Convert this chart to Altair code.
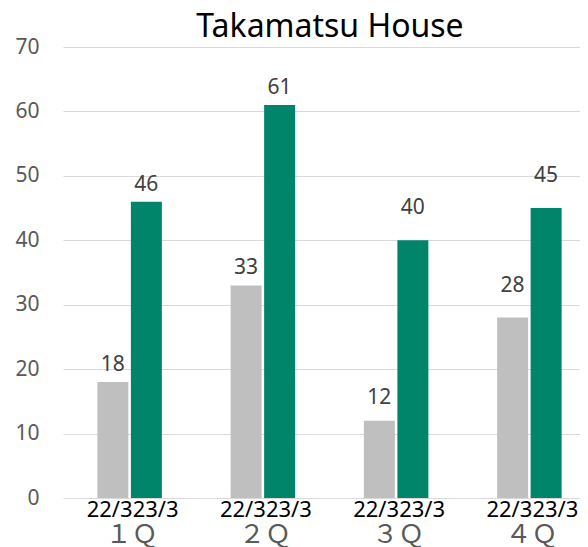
import altair as alt
import pandas as pd

title_text = "Takamatsu House"
quarters = ["1Q", "2Q", "3Q", "4Q"]
quarter_labels = ["１Ｑ", "２Ｑ", "３Ｑ", "４Ｑ"]
series = ["22/3", "23/3"]
values_22 = [18, 33, 12, 28]
values_23 = [46, 61, 40, 45]
y_ticks = [0, 10, 20, 30, 40, 50, 60, 70]

rows = []
for q, ql, a, b in zip(quarters, quarter_labels, values_22, values_23):
    rows.append({"quarter": q, "qlabel": ql, "series": series[0], "value": a})
    rows.append({"quarter": q, "qlabel": ql, "series": series[1], "value": b})
df = pd.DataFrame(rows)

W, H = 517, 451
FONT = "Noto Sans"

xs = alt.Scale(range=[0, 533], paddingInner=0.516, paddingOuter=0.258)
X = alt.X("quarter:N", sort=quarters, axis=None, scale=xs)
XO = alt.XOffset("series:N", sort=series, scale=alt.Scale(paddingInner=0.075, paddingOuter=0))
Y = alt.Y("value:Q", scale=alt.Scale(domain=[0, 70], nice=False),
          axis=alt.Axis(values=y_ticks, grid=True, gridColor="#D9D9D9", gridWidth=1.2,
                        domain=False, ticks=False, labelFontSize=21, labelColor="#595959",
                        labelFont=FONT, labelPadding=24, title=None))

base = alt.Chart(df)

bars = base.mark_bar().encode(
    x=X, xOffset=XO, y=Y,
    color=alt.Color("series:N", scale=alt.Scale(domain=series, range=["#BFBFBF", "#00856A"]), legend=None),
)

def vlabels(filter_expr, dy):
    return base.transform_filter(filter_expr).mark_text(
        dy=dy, baseline="alphabetic", fontSize=21, font=FONT, color="#404040"
    ).encode(x=X, xOffset=XO, y=alt.Y("value:Q"), text=alt.Text("value:Q"))

lab_a = vlabels("datum.quarter == '1Q' || datum.quarter == '2Q'", -11)
lab_b = vlabels("datum.quarter == '3Q' && datum.series == '22/3'", -17)
lab_c = vlabels("(datum.quarter == '3Q' && datum.series == '23/3') || datum.quarter == '4Q'", -26)

cat_left = base.transform_filter("datum.series == '22/3'").mark_text(
    align="right", dx=3, baseline="alphabetic", fontSize=22, font=FONT, color="#000000"
).encode(x=X, y=alt.value(H + 19), text="series:N")
cat_right = base.transform_filter("datum.series == '23/3'").mark_text(
    align="left", dx=3, baseline="alphabetic", fontSize=22, font=FONT, color="#000000"
).encode(x=X, y=alt.value(H + 19), text="series:N")

qlab = base.transform_filter("datum.series == '22/3'").mark_text(
    align="center", dx=2, baseline="alphabetic", fontSize=26, font="Noto Sans CJK JP", color="#595959"
).encode(x=X, y=alt.value(H + 45), text="qlabel:N")

title = alt.Chart(alt.Data(values=[{"t": title_text}])).mark_text(
    align="center", baseline="alphabetic", fontSize=32, font=FONT, color="#000000"
).encode(x=alt.value(267), y=alt.value(-10), text="t:N")

chart = alt.layer(bars, lab_a, lab_b, lab_c, cat_left, cat_right, qlab, title).properties(
    width=W, height=H,
    autosize=alt.AutoSizeParams(type="none"),
    padding={"left": 55, "top": 39, "right": 0, "bottom": 49},
).configure_view(stroke=None)

chart.save("out.html", embed_options={"renderer": "svg", "actions": False})
